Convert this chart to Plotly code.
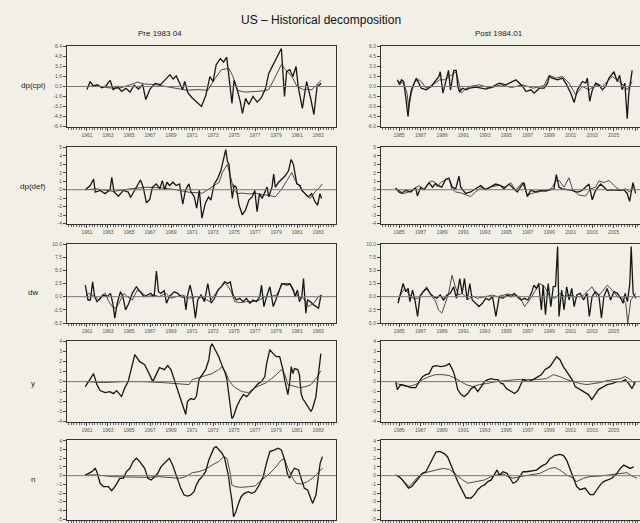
import plotly.graph_objects as go

# ---------------- data (years, values) ----------------
# Row 1: dp(cpi)
cpi_pre_x = [1961.0,1961.3,1961.6,1962.0,1962.4,1962.8,1963.2,1963.5,1963.9,1964.3,1964.7,1965.1,1965.5,1965.9,1966.3,1966.6,1967.0,1967.5,1968.0,1968.4,1968.9,1969.2,1969.5,1969.8,1970.1,1970.3,1970.6,1971.0,1971.5,1971.9,1972.3,1972.7,1973.0,1973.3,1973.7,1974.0,1974.3,1974.6,1974.8,1975.0,1975.3,1975.6,1975.8,1976.1,1976.4,1976.8,1977.2,1977.6,1978.0,1978.3,1978.7,1979.0,1979.5,1979.8,1980.0,1980.3,1980.6,1980.9,1981.1,1981.5,1981.9,1982.3,1982.6,1982.9,1983.3]
cpi_pre_y = [-0.5,0.8,0.1,0.3,-0.2,0.1,1.0,-0.5,0.0,-0.8,-0.3,-0.9,0.2,-0.4,0.3,-2.1,-0.4,0.5,0.3,1.0,1.9,1.2,1.7,0.6,-0.5,0.8,-1.0,-1.8,-2.5,-3.2,-1.5,1.6,0.8,3.5,4.5,3.9,4.7,0.5,-2.7,1.0,-0.5,-2.5,-4.3,-1.9,-2.9,-1.6,-2.5,-1.8,-0.3,2.1,3.5,4.3,6.1,-1.6,2.4,2.7,1.6,3.2,0.0,-3.5,0.8,-2.0,-4.5,0.0,0.5]
cpi_pre_gx = [1961.0,1962.0,1963.0,1964.0,1965.0,1965.8,1966.5,1967.5,1968.5,1969.5,1970.5,1971.5,1972.5,1973.2,1973.8,1974.5,1974.9,1975.3,1976.0,1977.0,1977.8,1978.3,1978.9,1979.5,1979.9,1980.5,1981.0,1981.6,1982.4,1983.0,1983.3]
cpi_pre_gy = [0.0,0.1,-0.2,-0.3,0.2,0.7,0.4,0.3,0.0,-0.3,-0.6,-0.5,-0.6,1.3,2.7,2.9,1.6,-0.6,-0.9,-0.8,-0.7,-0.5,1.6,3.5,2.7,1.6,0.0,-0.5,-0.5,0.6,1.0]
cpi_post_x = [1984.85,1985.06,1985.22,1985.43,1985.62,1985.84,1985.99,1986.15,1986.61,1987.07,1987.54,1988.0,1988.47,1988.72,1988.84,1989.09,1989.4,1989.61,1989.8,1990.11,1990.33,1990.48,1990.63,1990.94,1991.25,1991.56,1992.18,1993.11,1993.73,1994.35,1994.97,1995.59,1995.9,1996.52,1996.83,1997.29,1997.6,1998.07,1998.53,1998.84,1999.0,1999.3,1999.77,2000.23,2000.54,2001.01,2001.32,2001.63,2002.09,2002.4,2002.55,2002.77,2003.02,2003.33,2003.64,2003.95,2004.26,2004.57,2005.03,2005.34,2005.56,2005.8,2006.05,2006.27,2006.42,2006.73]
cpi_post_y = [1.0,0.25,1.0,0.75,-1.5,-4.5,-1.9,-0.5,1.25,-0.25,-0.5,0.0,1.0,1.5,2.2,-1.0,1.0,2.4,-0.5,2.4,2.4,0.0,-0.75,-0.25,-0.5,-0.25,-0.1,-0.4,0.0,0.5,0.25,0.75,1.0,0.0,-0.75,-0.5,-1.0,-0.25,-0.25,0.5,1.5,1.25,1.0,1.25,0.5,-1.0,-2.4,-0.5,0.75,0.5,1.25,-2.2,-0.5,0.5,0.25,-0.5,0.0,1.25,2.2,0.75,1.7,-0.5,0.5,-4.8,-1.0,2.4]
cpi_post_gx = [1984.85,1985.43,1985.75,1985.9,1986.15,1986.46,1986.92,1987.54,1988.16,1988.78,1989.25,1989.71,1990.02,1990.33,1990.8,1991.1,1991.56,1992.5,1993.5,1994.5,1995.5,1996.5,1997.5,1998.53,1999.0,1999.6,2000.23,2000.85,2001.47,2002.09,2002.7,2003.33,2003.95,2004.88,2005.5,2006.05,2006.27,2006.73]
cpi_post_gy = [0.75,0.5,-1.0,-3.2,-1.0,0.75,1.0,-0.25,0.25,1.0,1.0,1.5,1.9,2.2,-1.0,-0.5,0.0,0.25,-0.25,0.25,-0.15,0.25,-0.25,0.15,1.7,1.25,1.5,0.5,-1.25,0.0,-0.5,0.25,0.0,1.5,0.75,0.0,-0.5,0.75]

# Row 2: dp(def)
def_pre_x = [1960.84,1961.31,1961.63,1961.79,1962.26,1962.73,1963.2,1963.36,1963.58,1963.99,1964.46,1964.93,1965.15,1965.56,1966.09,1966.35,1966.66,1966.97,1967.23,1967.6,1967.92,1968.17,1968.39,1968.61,1968.86,1969.18,1969.49,1969.81,1970.12,1970.37,1970.69,1970.91,1971.22,1971.44,1971.69,1971.94,1972.26,1972.57,1972.79,1973.11,1973.42,1973.74,1974.05,1974.21,1974.36,1974.52,1974.68,1974.84,1974.99,1975.21,1975.47,1975.78,1976.09,1976.41,1976.72,1976.97,1977.19,1977.42,1977.67,1977.98,1978.14,1978.3,1978.61,1978.77,1978.92,1979.24,1979.55,1979.87,1980.18,1980.43,1980.65,1980.97,1981.28,1981.44,1981.75,1982.07,1982.38,1982.7,1982.95,1983.17,1983.33]
def_pre_y = [0,0.5,1.27,-0.27,-0.08,-0.46,0,1.46,-0.27,-0.77,-0.08,-0.27,-0.92,0,1.15,0.31,-1.54,-1.15,0.31,0.69,0.12,1.08,0,0.88,0.5,0.88,0.5,0.69,-1.69,-0.08,0.69,-0.27,-0.85,-2.19,-0.08,-3.35,-1.62,-0.85,-1.23,0.69,1.27,2.23,3.77,4.73,3.38,3.0,0.69,-1.04,0.5,0.31,-1.81,-2.96,-2.38,-1.23,-0.85,-0.08,-2.58,-0.46,-1.04,-0.27,0.31,-0.85,0.31,1.85,0.31,0.88,1.27,1.65,2.23,3.58,3.0,0.69,0.5,-0.08,-0.46,-0.85,-0.46,-1.42,-1.81,-0.46,-1.04]
def_pre_gx = [1960.84,1961.94,1963.52,1965.09,1966.66,1968.23,1969.49,1970.75,1972.0,1972.95,1973.58,1973.89,1974.36,1974.68,1974.99,1975.31,1975.78,1976.41,1977.04,1977.67,1978.3,1978.92,1979.55,1980.03,1980.5,1980.81,1981.28,1981.75,1982.23,1982.7,1983.17,1983.39]
def_pre_gy = [0,0.1,-0.2,0.1,0.3,0.2,0.0,-0.3,-0.4,0.31,0.88,2.04,3.0,1.46,-0.08,-0.46,-0.4,-0.5,-0.4,-0.6,-0.65,-0.85,0.12,1.08,2.04,1.08,0.31,-0.46,-1.04,-0.27,0.31,0.69]
def_post_x = [1984.69,1985.0,1985.25,1985.62,1986.09,1986.55,1986.71,1987.02,1987.33,1987.8,1988.11,1988.42,1988.66,1988.98,1989.35,1989.66,1989.97,1990.28,1990.59,1990.75,1991.21,1991.68,1992.14,1992.61,1993.07,1993.54,1994.01,1994.47,1994.78,1995.25,1995.56,1996.02,1996.34,1996.65,1996.96,1997.27,1997.73,1998.2,1998.66,1999.13,1999.44,1999.66,1999.91,2000.22,2000.68,2001.15,2001.46,2001.77,2002.08,2002.39,2002.7,2003.01,2003.32,2003.79,2004.1,2004.41,2004.88,2005.5,2005.96,2006.27,2006.49,2006.8,2007.05]
def_post_y = [0.22,-0.26,-0.44,-0.07,-0.26,0.22,-0.74,0.3,0,0.85,0.3,0.74,0.48,0.3,1.22,1.33,0.3,0.11,1.59,0.3,-0.44,-0.26,0.11,0.48,0,0.3,0.67,0.48,0.11,0.67,0.3,-0.26,0.37,0.85,-0.81,-0.07,-0.26,-0.07,-0.15,0,0.11,1.78,0.3,0.11,0,-0.07,-0.26,-0.26,-0.07,0.3,0.67,-1.19,-0.07,0.67,0.3,-0.07,0,-0.07,0,-0.44,-1.37,0.85,-0.44]
def_post_gx = [1984.69,1985.0,1985.47,1985.93,1986.4,1986.86,1987.33,1987.95,1988.26,1988.57,1988.88,1989.35,1989.66,1989.91,1990.28,1990.75,1991.21,1991.68,1992.14,1992.61,1993.07,1993.7,1994.32,1994.94,1995.4,1995.87,1996.49,1996.96,1997.58,1998.04,1998.51,1998.98,1999.29,1999.6,1999.91,2000.37,2000.84,2001.15,2001.77,2002.39,2002.86,2003.32,2003.63,2004.1,2004.57,2005.19,2005.65,2006.12,2006.49,2006.89]
def_post_gy = [0,-0.07,-0.44,-0.26,0.11,0.48,0,1.04,0.96,0.37,0.85,1.22,1.41,0.11,-0.26,-0.37,-0.63,-0.81,-0.26,0.22,0.11,0.37,0.52,0.3,0.85,-0.07,0.85,-0.63,-0.37,-0.26,-0.07,0,0.3,1.04,1.11,0.3,1.41,0.11,-0.63,-0.74,0.11,0.3,1.04,0.85,1.11,0.3,-0.07,0.11,-0.26,0.37]

# Row 3: dw
dw_pre_x = [1960.84,1961.1,1961.32,1961.54,1961.73,1961.96,1962.28,1962.6,1962.92,1963.24,1963.46,1963.65,1963.88,1964.19,1964.42,1964.67,1964.99,1965.31,1965.7,1966.11,1966.43,1966.75,1967.07,1967.39,1967.61,1967.81,1968.03,1968.35,1968.57,1968.83,1969.31,1969.63,1969.95,1970.27,1970.42,1970.58,1970.81,1971.06,1971.32,1971.54,1971.86,1972.18,1972.5,1972.82,1973.14,1973.46,1973.78,1974.1,1974.42,1974.64,1974.9,1975.22,1975.54,1975.86,1976.18,1976.5,1976.81,1977.13,1977.45,1977.61,1977.84,1978.09,1978.41,1978.73,1978.99,1979.21,1979.53,1980.01,1980.33,1980.65,1980.81,1981.03,1981.22,1981.45,1981.61,1981.83,1981.99,1982.25,1982.57,1983.04,1983.27]
dw_pre_y = [2.19,-0.63,-0.63,2.81,0,-0.94,-0.31,0.31,0,0.63,-1.25,-4.06,-1.25,0.94,0,-2.5,-1.25,0.63,1.88,0.94,0,0.31,0.63,0,4.88,0.94,0.63,1.13,-1.25,0,0.94,0.63,0,-0.13,-2.5,0.31,2.19,0,-4.06,-0.63,0.31,-0.94,2.5,-1.25,-0.31,1.25,1.88,2.81,2.5,2.81,0.31,-0.63,-0.31,-0.94,-0.31,-1.25,-0.63,-0.94,0,2.19,-1.88,0,1.88,-1.88,-0.63,0.63,2.5,2.19,2.38,1.25,0,1.25,-0.94,0,3.44,-3.13,-0.63,-0.94,-1.56,-2.19,0.31]
dw_pre_gx = [1960.84,1961.16,1961.48,1961.8,1962.12,1962.44,1962.76,1963.08,1963.4,1963.72,1964.04,1964.51,1964.83,1965.31,1965.79,1966.27,1966.75,1967.39,1967.87,1968.51,1968.99,1969.47,1970.11,1970.74,1971.38,1972.02,1972.66,1973.14,1973.62,1974.1,1974.42,1974.74,1975.06,1975.54,1976.18,1976.81,1977.45,1977.93,1978.41,1979.05,1979.63,1980.33,1980.65,1981.13,1981.61,1982.09,1982.57,1983.04,1983.36]
dw_pre_gy = [0,0.63,0.31,0,-0.63,0.31,0.63,-0.94,-1.88,-2.19,-1.25,0.63,0,-0.63,1.25,0.63,0,0.31,0,0.63,-0.31,0,0.31,-0.31,0,-0.13,-0.94,0.31,1.56,2.5,2.0,0.94,-0.94,-1.13,-0.94,-0.94,-0.63,0,0,0.31,2.5,2.5,0.94,0,-0.31,-1.88,-1.25,0,0.31]
dw_post_x = [1984.91,1985.06,1985.38,1985.63,1985.85,1986.01,1986.26,1986.48,1986.73,1986.95,1987.26,1987.58,1987.89,1988.21,1988.52,1988.84,1989.15,1989.47,1989.78,1990.09,1990.35,1990.66,1990.88,1991.1,1991.35,1991.6,1991.82,1992.14,1992.45,1992.77,1993.08,1993.4,1993.71,1994.03,1994.34,1994.65,1995.13,1995.44,1995.75,1996.07,1996.38,1996.7,1997.01,1997.33,1997.58,1997.8,1998.02,1998.27,1998.43,1998.65,1998.9,1999.15,1999.37,1999.59,1999.78,1999.91,2000.16,2000.38,2000.63,2000.85,2001.1,2001.32,2001.57,2001.89,2002.2,2002.52,2002.74,2002.99,2003.3,2003.62,2003.87,2004.09,2004.4,2004.72,2005.03,2005.35,2005.66,2005.88,2006.07,2006.29,2006.51,2006.64,2006.82,2007.08]
dw_post_y = [-1.25,0,2.5,0.94,1.56,-0.94,1.25,-0.63,-3.75,0,0.94,1.56,0.63,0,-0.31,0.31,-0.63,0.31,0.63,1.88,-0.31,3.44,0.63,3.44,-0.63,2.5,-0.63,-1.25,-1.88,-1.25,-0.31,-0.63,0,-3.75,0,-0.31,0.31,0,0.63,-0.13,-0.63,-0.31,-0.63,0.63,2.19,1.56,2.5,-2.5,2.19,-3.44,2.5,-1.88,1.88,2.0,9.5,-3.75,1.25,-2.5,1.88,-0.63,1.56,-1.88,0.31,0.63,-0.63,0.63,-3.75,0,0.94,0.31,-4.06,0,1.56,-0.63,0.94,0.63,-0.31,-1.25,0.63,-0.94,2.5,9.5,0.63,-0.31]
dw_post_gx = [1984.91,1985.22,1985.53,1985.85,1986.32,1986.79,1987.11,1987.58,1988.05,1988.36,1988.68,1988.99,1989.31,1989.62,1989.94,1990.25,1990.57,1990.88,1991.19,1991.51,1991.82,1992.3,1992.77,1993.24,1993.71,1994.18,1994.65,1995.13,1995.75,1996.23,1996.7,1997.17,1997.64,1998.11,1998.58,1999.06,1999.53,2000.0,2000.47,2000.94,2001.42,2002.04,2002.52,2002.99,2003.46,2003.93,2004.4,2004.87,2005.35,2005.82,2006.13,2006.32,2006.6,2007.08]
dw_post_gy = [-0.63,0.63,1.56,0.63,-0.31,-0.31,0.63,1.88,0,-0.63,-2.5,-3.13,-1.25,0.63,4.06,1.88,0.31,0.63,0,-0.5,0.13,-0.31,-0.13,0.13,0.31,0,0.31,0.5,0.31,0,-1.88,-0.63,0.94,2.5,1.88,0,-0.31,0.63,0,0.31,0,0,0.94,1.88,0,0.94,2.19,1.25,0,-0.31,-1.25,-5.0,-0.63,0.63]

# Row 4: y
y_pre_x = [1960.84,1961.31,1961.63,1961.94,1962.25,1962.72,1963.19,1963.51,1963.82,1964.29,1964.61,1964.92,1965.55,1966.02,1966.49,1966.96,1967.27,1967.58,1967.9,1968.37,1968.68,1968.99,1969.31,1969.62,1969.93,1970.25,1970.4,1970.56,1970.87,1971.19,1971.41,1971.66,1971.97,1972.29,1972.6,1972.76,1972.91,1973.23,1973.54,1973.79,1974.01,1974.17,1974.32,1974.48,1974.64,1974.79,1974.95,1975.26,1975.58,1975.89,1976.2,1976.36,1976.67,1976.99,1977.3,1977.61,1977.93,1978.08,1978.24,1978.4,1978.71,1979.03,1979.34,1979.65,1979.81,1979.97,1980.12,1980.28,1980.44,1980.6,1980.75,1981.06,1981.22,1981.38,1981.53,1981.85,1982.16,1982.32,1982.47,1982.79,1982.94,1983.26]
y_pre_y = [-0.5,0.2,0.8,-0.3,-0.9,-1.1,-1.0,-1.2,-0.9,-1.5,-0.6,0.0,2.7,2.0,1.7,0.7,0.0,0.7,1.4,1.2,1.6,1.2,0.2,-0.8,-1.6,-2.7,-3.3,-2.0,-1.7,-1.8,-1.5,0.2,0.7,1.2,2.2,3.5,3.8,3.2,2.5,1.8,1.3,0.8,0.2,-1.2,-2.5,-3.7,-3.5,-2.5,-1.8,-1.3,-1.5,-1.3,-1.0,-0.5,-0.2,0.0,0.5,1.7,2.5,3.2,2.8,2.5,2.5,1.2,0.2,-0.8,-1.3,-0.2,1.5,0.8,1.3,1.2,0.7,-1.2,-1.7,-2.2,-2.7,-3.0,-2.7,-1.5,0.0,2.8]
y_pre_gx = [1960.84,1962.57,1964.45,1966.33,1968.21,1969.78,1970.72,1971.03,1971.97,1972.91,1973.54,1973.85,1974.17,1974.48,1974.79,1975.11,1975.73,1976.36,1976.99,1977.61,1978.08,1978.56,1979.03,1979.5,1979.81,1980.12,1980.75,1981.22,1981.85,1982.32,1982.94,1983.26]
y_pre_gy = [0,-0.1,0,0,-0.1,-0.2,-0.3,0.2,0.5,0.8,1.2,1.5,1.0,0.2,-0.3,-0.6,-1.0,-1.1,-0.6,-0.3,-0.1,0.3,0.7,1.2,0.8,-0.3,-0.5,-0.6,-0.5,-0.3,0.5,1.1]
y_post_x = [1984.69,1984.84,1985.16,1985.63,1986.09,1986.56,1986.88,1987.19,1987.5,1987.81,1988.13,1988.44,1988.91,1989.38,1989.69,1989.94,1990.16,1990.47,1990.78,1991.09,1991.41,1991.72,1992.03,1992.34,1992.66,1992.97,1993.28,1993.59,1993.91,1994.22,1994.53,1994.69,1995.0,1995.47,1995.78,1996.09,1996.25,1996.56,1997.03,1997.5,1997.97,1998.28,1998.59,1999.06,1999.38,1999.69,2000.0,2000.31,2000.63,2000.94,2001.25,2001.41,2001.88,2002.19,2002.66,2002.97,2003.28,2003.59,2003.91,2004.38,2004.84,2005.31,2005.78,2006.09,2006.41,2006.72,2007.03]
y_post_y = [0.0,-0.8,-0.3,-0.4,-0.6,-0.6,0.0,0.5,0.7,0.8,1.5,1.6,1.5,1.6,1.8,1.3,0.7,-0.8,-1.3,-1.5,-1.2,-0.7,-0.5,-1.0,-0.5,0.0,0.2,0.3,0.2,0.2,-0.2,-0.2,-0.7,-1.0,-1.2,-0.9,-0.5,0.2,0.0,0.2,0.5,0.7,1.2,1.5,2.0,2.5,2.2,1.5,1.0,0.5,0.0,-0.5,-0.8,-1.0,-1.3,-1.8,-1.3,-0.8,-0.6,-0.3,-0.2,0.0,0.0,0.2,-0.2,-0.7,0.0]
y_post_gx = [1984.84,1985.31,1985.78,1986.25,1986.72,1987.19,1987.81,1988.44,1989.06,1989.69,1990.31,1990.78,1991.25,1991.88,1992.5,1993.13,1994.06,1995.0,1995.94,1996.88,1997.81,1998.75,1999.38,2000.0,2000.63,2001.25,2001.88,2002.5,2003.13,2003.75,2004.38,2005.0,2005.63,2006.09,2006.56,2007.03]
y_post_gy = [-0.2,-0.4,-0.5,-0.4,-0.2,0.2,0.5,0.7,0.7,0.6,0.3,0.0,-0.3,-0.5,-0.3,-0.2,0.0,0.1,0.2,0.2,0.2,0.3,0.7,0.5,0.2,0.0,-0.2,-0.3,-0.2,-0.1,0.1,0.2,0.3,0.5,0.2,-0.3]

# Row 5: n
n_pre_x = [1960.84,1961.16,1961.47,1961.78,1961.94,1962.25,1962.57,1963.04,1963.35,1963.66,1964.13,1964.45,1964.76,1965.08,1965.39,1965.7,1966.02,1966.49,1966.8,1967.11,1967.43,1967.74,1968.05,1968.52,1968.84,1969.15,1969.62,1969.93,1970.25,1970.56,1970.87,1971.19,1971.34,1971.66,1971.97,1972.29,1972.6,1973.07,1973.29,1973.54,1973.85,1974.1,1974.32,1974.48,1974.64,1974.79,1974.95,1975.17,1975.42,1975.67,1975.98,1976.36,1976.67,1976.99,1977.3,1977.55,1977.77,1978.08,1978.4,1978.87,1979.18,1979.5,1979.81,1980.06,1980.28,1980.44,1980.75,1981.13,1981.38,1981.69,1982.0,1982.25,1982.47,1982.79,1983.01,1983.19,1983.41]
n_pre_y = [0.08,0.27,0.46,0.85,0.46,-0.88,-1.27,-1.27,-1.73,-1.27,-0.31,-0.31,0.46,0.85,1.62,2.0,1.62,0.85,-0.31,-0.5,-0.12,0.27,1.04,1.62,2.0,1.23,-0.5,-1.46,-2.23,-2.35,-2.23,-1.85,-1.27,-0.5,-0.12,0.46,1.81,3.15,3.35,2.96,2.58,2.0,0.65,-0.12,-1.65,-2.81,-4.73,-4.15,-3.19,-2.42,-2.04,-1.85,-2.04,-1.85,-1.27,-0.69,-0.12,1.42,2.77,2.96,3.15,2.96,1.81,0.27,-0.31,0.27,0.85,0.65,-0.31,-1.46,-1.65,-2.42,-3.19,-2.23,-0.5,1.42,2.19]
n_pre_gx = [1960.84,1961.94,1963.51,1965.08,1966.64,1967.9,1968.84,1969.78,1970.4,1971.03,1971.66,1972.29,1972.91,1973.54,1974.01,1974.32,1974.64,1974.79,1975.11,1975.73,1976.36,1976.99,1977.61,1978.24,1978.87,1979.5,1979.81,1980.12,1980.59,1980.91,1981.38,1982.0,1982.63,1983.1,1983.41]
n_pre_gy = [0.08,0.08,-0.12,-0.19,-0.19,-0.12,-0.19,-0.31,-0.12,0.35,0.46,0.73,1.23,1.62,2.19,2.0,0.27,-1.08,-1.27,-1.35,-1.27,-1.19,-0.5,0.08,0.85,1.81,1.88,0.85,-0.31,-0.88,-0.96,-0.69,-0.12,0.46,0.85]
n_post_x = [1984.69,1985.0,1985.31,1985.63,1985.88,1986.19,1986.56,1986.88,1987.19,1987.5,1987.81,1988.13,1988.44,1988.81,1989.22,1989.53,1989.84,1990.16,1990.47,1990.78,1991.25,1991.72,1992.03,1992.34,1992.66,1992.97,1993.28,1993.59,1993.91,1994.13,1994.38,1994.69,1995.06,1995.38,1995.63,1995.94,1996.25,1996.56,1996.88,1997.34,1997.81,1998.28,1998.75,1999.06,1999.53,2000.0,2000.31,2000.63,2000.94,2001.25,2001.56,2001.88,2002.34,2002.81,2003.13,2003.44,2003.75,2004.06,2004.38,2004.84,2005.31,2005.63,2005.94,2006.25,2006.56,2006.88]
n_post_y = [0.08,-0.11,-0.49,-1.06,-1.43,-1.25,-0.68,-0.11,0.26,0.45,1.21,2.15,2.72,2.79,2.53,2.15,1.21,0.08,-0.68,-1.43,-2.57,-2.57,-2.19,-1.62,-1.25,-1.06,-0.68,-0.49,0.26,0.64,0.08,0.45,0.26,-0.3,-0.87,-0.68,-0.11,0.45,0.45,0.53,0.64,1.09,1.4,1.96,2.34,2.45,2.34,1.77,0.83,-0.11,-1.25,-1.62,-1.43,-2.19,-2.19,-1.62,-1.06,-0.68,-0.49,-0.3,0.26,0.83,1.21,1.02,0.83,1.02]
n_post_gx = [1984.69,1985.16,1985.63,1985.94,1986.25,1986.72,1987.19,1987.81,1988.44,1989.06,1989.69,1990.31,1990.94,1991.41,1992.19,1992.97,1993.59,1994.06,1994.69,1995.16,1995.63,1996.25,1997.19,1998.13,1999.06,1999.53,2000.0,2000.63,2001.25,2001.56,2002.19,2002.81,2003.75,2004.69,2005.63,2006.25,2006.72,2007.19]
n_post_gy = [0.08,-0.3,-0.87,-1.25,-0.87,-0.19,0.26,0.45,0.72,0.83,0.72,0.08,-0.49,-0.87,-0.68,-0.49,-0.11,0.08,0.19,-0.11,-0.3,-0.11,0.08,0.26,0.83,0.94,0.64,0.08,-0.3,-0.68,-0.3,-0.11,-0.04,0.08,0.26,0.34,-0.04,-0.3]

row_names = ["dp(cpi)", "dp(def)", "dw", "y", "n"]
col_titles = ["Pre 1983 04", "Post 1984.01"]
title_text = "US \u2013 Historical decomposition"

left_years = [1961, 1963, 1965, 1967, 1969, 1971, 1973, 1975, 1977, 1979, 1981, 1983]
right_years = [1985, 1987, 1989, 1991, 1993, 1995, 1997, 1999, 2001, 2003, 2005, 2007]

ytick_sets = [
    ([-6.4, -4.8, -3.2, -1.6, 0, 1.6, 3.2, 4.8, 6.4], ["-6.4", "-4.8", "-3.2", "-1.6", "0.0", "1.6", "3.2", "4.8", "6.4"]),
    ([-4, -3, -2, -1, 0, 1, 2, 3, 4, 5], ["-4", "-3", "-2", "-1", "0", "1", "2", "3", "4", "5"]),
    ([-5, -2.5, 0, 2.5, 5, 7.5, 10], ["-5.0", "-2.5", "0.0", "2.5", "5.0", "7.5", "10.0"]),
    ([-4, -3, -2, -1, 0, 1, 2, 3, 4], ["-4", "-3", "-2", "-1", "0", "1", "2", "3", "4"]),
    ([-5, -4, -3, -2, -1, 0, 1, 2, 3, 4], ["-5", "-4", "-3", "-2", "-1", "0", "1", "2", "3", "4"]),
]
ytick_right_row1 = ([-6, -4.5, -3, -1.5, 0, 1.5, 3, 4.5, 6], ["-6.0", "-4.5", "-3.0", "-1.5", "0.0", "1.5", "3.0", "4.5", "6.0"])

series = [
    [(cpi_pre_x, cpi_pre_y, cpi_pre_gx, cpi_pre_gy), (cpi_post_x, cpi_post_y, cpi_post_gx, cpi_post_gy)],
    [(def_pre_x, def_pre_y, def_pre_gx, def_pre_gy), (def_post_x, def_post_y, def_post_gx, def_post_gy)],
    [(dw_pre_x, dw_pre_y, dw_pre_gx, dw_pre_gy), (dw_post_x, dw_post_y, dw_post_gx, dw_post_gy)],
    [(y_pre_x, y_pre_y, y_pre_gx, y_pre_gy), (y_post_x, y_post_y, y_post_gx, y_post_gy)],
    [(n_pre_x, n_pre_y, n_pre_gx, n_pre_gy), (n_post_x, n_post_y, n_post_gx, n_post_gy)],
]

# ---------------- layout geometry ----------------
W, H = 640, 523
BG = "#f2efe6"
row_px = [(46, 127), (147, 224), (244, 323), (341, 422), (440, 520)]
col_px = [(67, 336), (381, 640)]
xranges = [[1959.1, 1984.7], [1983.32, 2007.46]]
yranges = [[-6.5, 6.5], [-4.05, 5.05], [-5, 10], [-4.05, 4.07], [-5.1, 4.1]]
yrange_right_row1 = [-6.05, 6.05]

fig = go.Figure()
layout = dict(
    width=W, height=H, autosize=False,
    margin=dict(l=0, r=0, t=0, b=0, pad=0, autoexpand=False),
    paper_bgcolor=BG, plot_bgcolor=BG,
    showlegend=False,
    font=dict(family="Liberation Sans, Arial, sans-serif", color="#333"),
)
shapes = []
annotations = []

for r in range(5):
    for c in range(2):
        n = r * 2 + c + 1
        xa = "x" if n == 1 else f"x{n}"
        ya = "y" if n == 1 else f"y{n}"
        bx, by, gx, gy = series[r][c]
        fig.add_trace(go.Scatter(x=gx, y=gy, xaxis=xa, yaxis=ya, mode="lines",
                                 line=dict(color="#4a4a4a", width=1.0), hoverinfo="skip"))
        fig.add_trace(go.Scatter(x=bx, y=by, xaxis=xa, yaxis=ya, mode="lines",
                                 line=dict(color="#161616", width=1.3), hoverinfo="skip"))
        top, bot = row_px[r]
        left, right = col_px[c]
        years = left_years if c == 0 else right_years
        if r == 0 and c == 1:
            tv, tt = ytick_right_row1
            yr = yrange_right_row1
        else:
            tv, tt = ytick_sets[r]
            yr = yranges[r]
        layout["xaxis" if n == 1 else f"xaxis{n}"] = dict(
            domain=[left / W, right / W], range=xranges[c], anchor=ya,
            showline=True, linecolor="#333", linewidth=1, mirror=True,
            ticks="outside", ticklen=3, tickwidth=1, tickcolor="#444",
            tickvals=years, ticktext=[str(v) for v in years],
            tickfont=dict(size=5, color="#555"),
            minor=dict(ticks="outside", ticklen=2, dtick=0.25, tick0=1961, tickcolor="#666"),
            showgrid=False, zeroline=False, fixedrange=True, automargin=False,
        )
        layout["yaxis" if n == 1 else f"yaxis{n}"] = dict(
            domain=[1 - bot / H, 1 - top / H], range=yr, anchor=xa,
            showline=True, linecolor="#333", linewidth=1, mirror=True,
            ticks="outside", ticklen=3, tickwidth=1, tickcolor="#444",
            tickvals=tv, ticktext=tt, tickfont=dict(size=5, color="#555"),
            showgrid=False, zeroline=False, fixedrange=True, automargin=False,
        )
        shapes.append(dict(type="line", xref=f"{xa} domain", yref=ya,
                           x0=0, x1=1, y0=0, y1=0,
                           line=dict(color="#777", width=1)))

row_label_y = [86, 187, 292, 383, 479]
for name, yp in zip(row_names, row_label_y):
    annotations.append(dict(text=name, x=33 / W, y=1 - yp / H, xref="paper", yref="paper",
                            showarrow=False, xanchor="center", yanchor="middle",
                            font=dict(size=8, color="#222")))

annotations.append(dict(text=title_text, x=321 / W, y=1 - 20 / H, xref="paper", yref="paper",
                        showarrow=False, xanchor="center", yanchor="middle",
                        font=dict(size=12, color="#111")))
for t, xp in zip(col_titles, [160, 499]):
    annotations.append(dict(text=t, x=xp / W, y=1 - 33 / H, xref="paper", yref="paper",
                            showarrow=False, xanchor="center", yanchor="middle",
                            font=dict(size=8, color="#222")))

layout["shapes"] = shapes
layout["annotations"] = annotations
fig.update_layout(**layout)
fig.write_html(
    "out.html",
    config={"displayModeBar": False, "responsive": False},
    post_script="document.body.style.margin='0';document.body.style.overflow='hidden';"
                "document.documentElement.style.overflow='hidden';",
)
